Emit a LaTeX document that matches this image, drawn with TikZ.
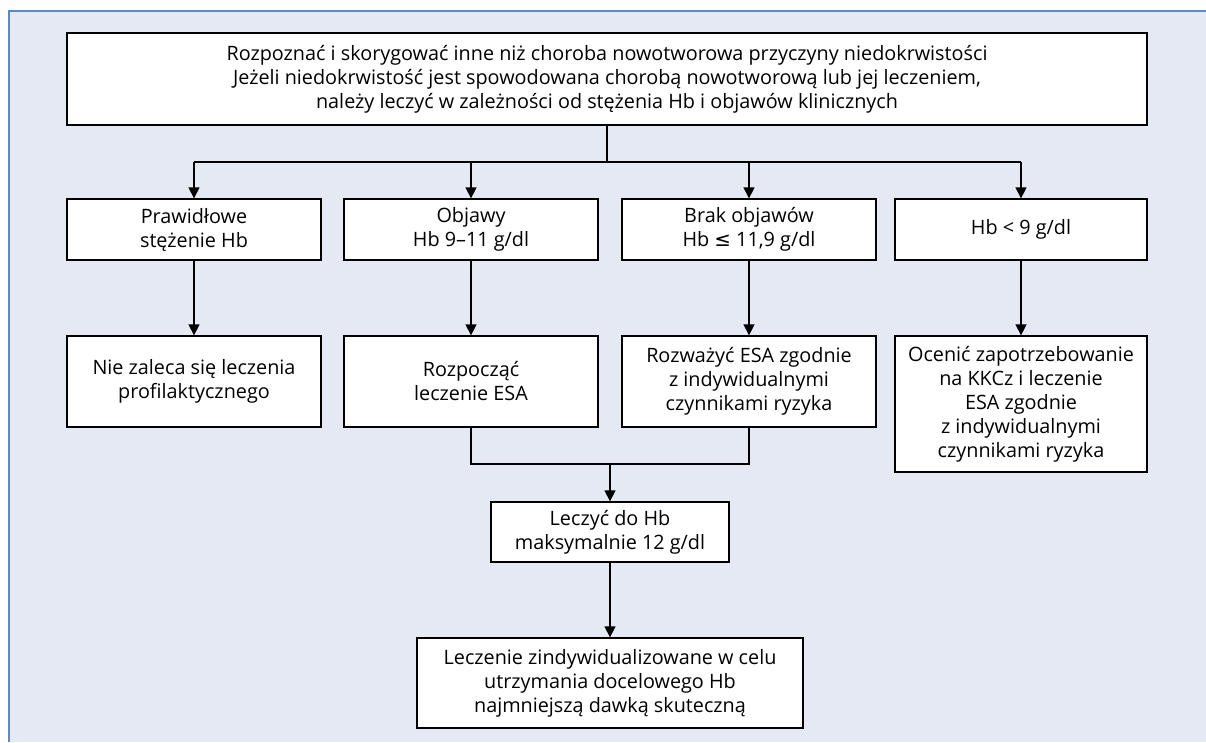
\documentclass[tikz,border=0pt]{standalone}
\usepackage{fontspec}
\setmainfont{Open Sans}
\newfontfamily\symfont{DejaVu Sans}
\usetikzlibrary{arrows.meta}
\definecolor{bgfill}{HTML}{E5E9F4}
\definecolor{frameblue}{HTML}{5B8AC6}
\tikzset{
  box/.style={draw=black, line width=1.3pt, fill=white, align=center, inner sep=0pt,
    font=\fontsize{19.8}{24}\selectfont},
  conn/.style={draw=black, line width=1.3pt},
  arr/.style={conn, -{Triangle[width=11pt,length=11pt]}}
}
\begin{document}
\begin{tikzpicture}[x=1pt, y=-1pt]
\useasboundingbox (0,0) rectangle (1206,742);
\fill[bgfill] (9,11) rectangle (1206,742);
\draw[frameblue, line width=1.5pt] (9,742) -- (9,11) -- (1206,11);

\node[box, minimum width=1080pt, minimum height=92pt] (top) at (607,79)
  {Rozpoznać i skorygować inne niż choroba nowotworowa przyczyny niedokrwistości\\
   Jeżeli niedokrwistość jest spowodowana chorobą nowotworową lub jej leczeniem,\\
   należy leczyć w zależności od stężenia Hb i objawów klinicznych};

\node[box, minimum width=254pt, minimum height=61pt] (a1) at (194,229.5) {Prawidłowe\\stężenie Hb};
\node[box, minimum width=254pt, minimum height=61pt] (a2) at (471,229.5) {Objawy\\Hb 9–11 g/dl};
\node[box, minimum width=254pt, minimum height=61pt] (a3) at (749,229.5) {Brak objawów\\Hb {\symfont ≤} 11,9 g/dl};
\node[box, minimum width=252pt, minimum height=61pt] (a4) at (1021,229.5) {Hb < 9 g/dl};

\node[box, minimum width=254pt, minimum height=91pt] (b1) at (194,381.5) {Nie zaleca się leczenia\\profilaktycznego};
\node[box, minimum width=254pt, minimum height=91pt] (b2) at (471,381.5) {Rozpocząć\\leczenie ESA};
\node[box, minimum width=254pt, minimum height=91pt] (b3) at (749,381.5) {Rozważyć ESA zgodnie\\z indywidualnymi\\czynnikami ryzyka};
\node[box, minimum width=252pt, minimum height=136pt] (b4) at (1021,404) {Ocenić zapotrzebowanie\\na KKCz i leczenie\\ESA zgodnie\\z indywidualnymi\\czynnikami ryzyka};

\node[box, minimum width=238pt, minimum height=60pt] (c) at (610,532) {Leczyć do Hb\\maksymalnie 12 g/dl};
\node[box, minimum width=386pt, minimum height=90pt] (d) at (610,683) {Leczenie zindywidualizowane w celu\\utrzymania docelowego Hb\\najmniejszą dawką skuteczną};

\coordinate (split) at (607,162);
\coordinate (s1) at (194,162);
\coordinate (s2) at (471,162);
\coordinate (s3) at (749,162);
\coordinate (s4) at (1021,162);
\draw[conn] (top.south) -- (split);
\draw[conn] (s1) -- (s4);
\draw[arr] (s1) -- (a1.north);
\draw[arr] (s2) -- (a2.north);
\draw[arr] (s3) -- (a3.north);
\draw[arr] (s4) -- (a4.north);

\draw[arr] (a1) -- (b1);
\draw[arr] (a2) -- (b2);
\draw[arr] (a3) -- (b3);
\draw[arr] (a4) -- (b4);

\coordinate (j2) at (471,464);
\coordinate (j3) at (749,464);
\coordinate (jm) at (610,464);
\draw[conn] (b2.south) -- (j2) -- (j3) -- (b3.south);
\draw[arr] (jm) -- (c.north);
\draw[arr] (c) -- (d);
\end{tikzpicture}
\end{document}
